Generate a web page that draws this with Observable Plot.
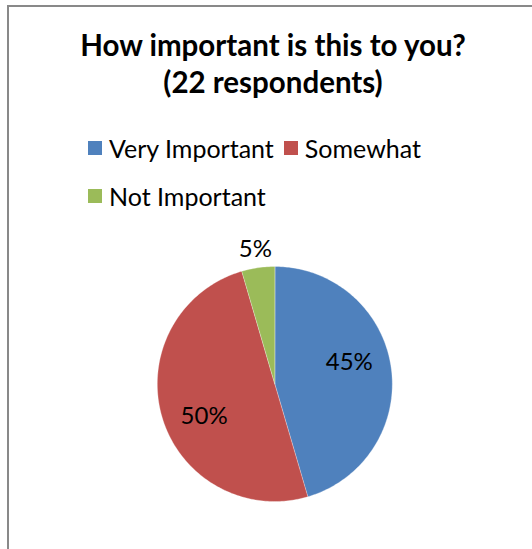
<!DOCTYPE html>
<html><head><meta charset="utf-8">
<script src="https://cdn.jsdelivr.net/npm/d3@7"></script>
<script src="https://cdn.jsdelivr.net/npm/@observablehq/plot@0.6"></script>
<style>
html,body{margin:0;padding:0;background:#fff;}
#wrap{position:relative;width:532px;height:549px;overflow:hidden;font-family:Lato,sans-serif;}
#frame{position:absolute;left:7px;top:5px;width:600px;height:600px;border-top:2px solid #898989;border-left:2px solid #898989;}
#title{position:absolute;left:8px;top:25.5px;width:530px;text-align:center;font:bold 29.5px/37.6px Lato,sans-serif;color:#000;white-space:nowrap;}
#legend{position:absolute;left:88px;top:123.4px;width:350px;}
.lg-swatches{font:25px Lato,sans-serif;color:#000;margin:0 !important;}
.lg-swatches-wrap{display:flex;align-items:center;flex-wrap:wrap;min-height:0 !important;}
.lg-swatch{display:inline-flex;align-items:center;height:48.6px;margin-right:10px !important;}
.lg-swatch>svg{margin-right:7px !important;}
#chart{position:absolute;left:0;top:220px;}
</style></head>
<body>
<div id="wrap">
  <div id="frame"></div>
  <div id="title">How important is this to you?<br>(22 respondents)</div>
  <div id="legend"></div>
  <div id="chart"></div>
</div>
<script>
const categories = ["Very Important", "Somewhat", "Not Important"];
const counts = [10, 11, 1];
const colors = ["#4F81BD", "#C0504D", "#9BBB59"];

const total = d3.sum(counts);
let acc = 0;
const slicePts = [];
const labels = [];
categories.forEach((c, i) => {
  const a0 = acc / total * 2 * Math.PI; acc += counts[i]; const a1 = acc / total * 2 * Math.PI;
  slicePts.push({name: c, x: 0, y: 0});
  const n = Math.max(2, Math.ceil((a1 - a0) / (Math.PI / 180)));
  for (let k = 0; k <= n; k++) {
    const a = a0 + (a1 - a0) * k / n;
    slicePts.push({name: c, x: Math.sin(a), y: Math.cos(a)});
  }
  const share = counts[i] / total;
  const mid = (a0 + a1) / 2;
  const outside = share < 0.1;
  const la = outside ? mid : mid - 8 * Math.PI / 180;
  const lr = outside ? 1.16 : 0.66;
  labels.push({name: c, x: lr * Math.sin(la), y: lr * Math.cos(la), text: Math.round(share * 100) + "%"});
});

const color = {domain: categories, range: colors};

document.getElementById("legend").append(
  Plot.legend({color, className: "lg", swatchSize: 14, legend: "swatches"})
);

const chart = Plot.plot({
  width: 532, height: 329,
  marginLeft: 156.8, marginRight: 140.2, marginTop: 46, marginBottom: 48,
  x: {domain: [-1, 1], axis: null},
  y: {domain: [-1, 1], axis: null},
  color,
  style: {background: "transparent", overflow: "visible"},
  marks: [
    Plot.line(slicePts, {x: "x", y: "y", z: "name", fill: "name", stroke: "#fff", strokeWidth: 0.6, strokeOpacity: 0.5, curve: "linear-closed"}),
    Plot.text(labels, {x: "x", y: "y", text: "text", fontSize: 24, fill: "#000", fontFamily: "Lato, sans-serif"})
  ]
});
document.getElementById("chart").append(chart);
</script>
</body></html>
